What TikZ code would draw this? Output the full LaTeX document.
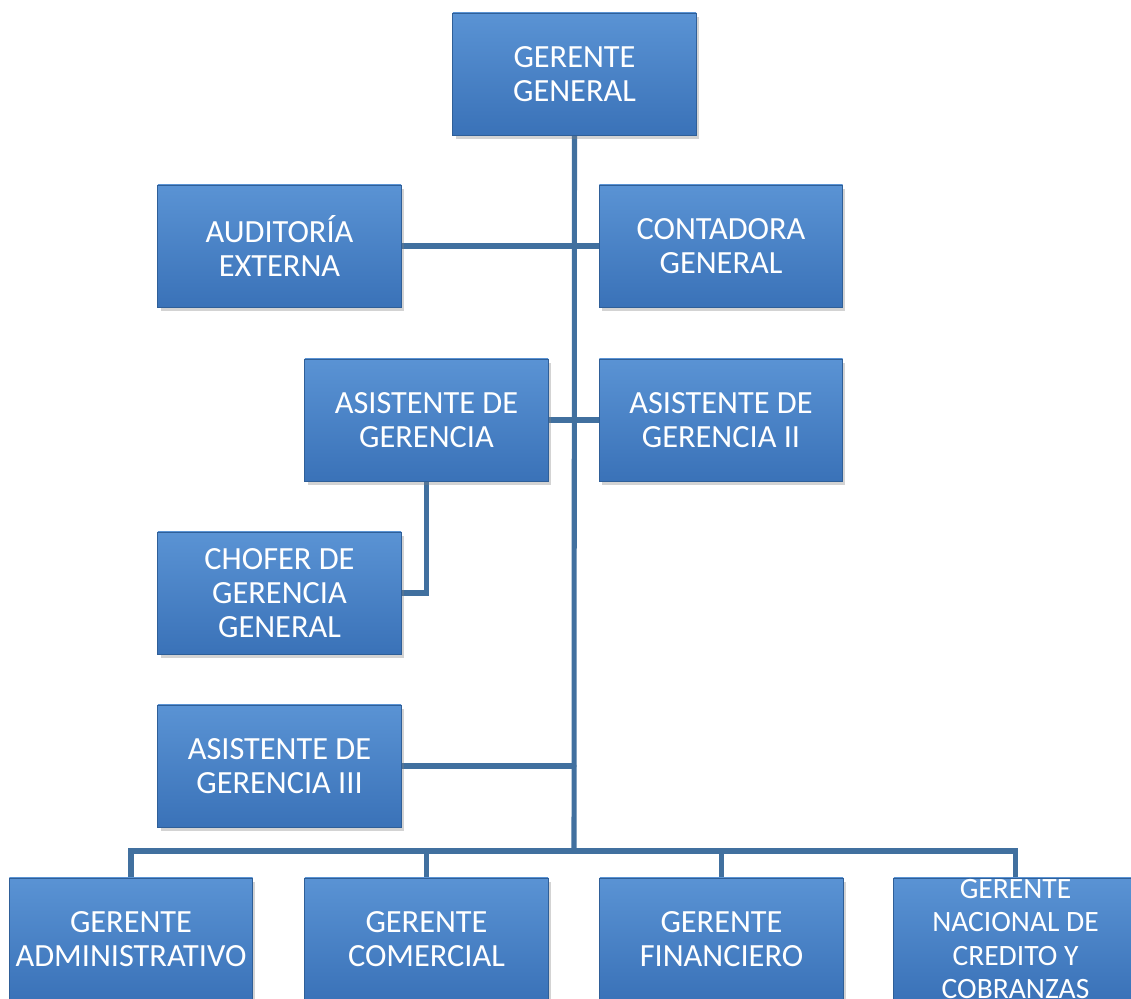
\documentclass[tikz,border=0pt]{standalone}
\usepackage{fontspec}
\setmainfont{Carlito}
\usepackage{tikz}
\usetikzlibrary{calc, shadows, backgrounds}

\definecolor{boxtop}{HTML}{5A93D4}
\definecolor{boxbot}{HTML}{3A72B8}
\definecolor{boxedge}{HTML}{2F5F98}
\definecolor{linkcol}{HTML}{41709F}

\begin{document}
\begin{tikzpicture}[
    x = 0.025cm, y = -0.025cm,
    puesto/.style = {rectangle, draw = boxedge, line width = 0.6pt,
      top color = boxtop, bottom color = boxbot,
      drop shadow = {opacity = 0.35, shadow xshift = 2pt, shadow yshift = -3pt},
      minimum width = 6.08cm, minimum height = 3.05cm,
      align = center, text = white, font = \fontsize{23}{24}\selectfont},
    rotulo/.style = {align = center, text = white, font = \fontsize{21}{23.5}\selectfont},
    enlace/.style = {draw = linkcol, line width = 3.6pt, line cap = round}
  ]
  \useasboundingbox (0,0) rectangle (1131,999);

  % top level and staff
  \node[puesto] (GG)    at (574.5, 74)  {GERENTE\\GENERAL};
  \node[puesto] (Aud)   at (279.5, 246) {AUDITORÍA\\EXTERNA};
  \node[puesto] (Cont)  at (721, 246)   {CONTADORA\\GENERAL};
  \node[puesto] (Asis)  at (426.5, 420) {ASISTENTE DE\\GERENCIA};
  \node[puesto] (Asis2) at (721, 420)   {ASISTENTE DE\\GERENCIA II};
  \node[puesto] (Chof)  at (279.5, 593) {CHOFER DE\\GERENCIA\\GENERAL};
  \node[puesto] (Asis3) at (279.5, 766) {ASISTENTE DE\\GERENCIA III};

  % managers
  \node[puesto] (GA)   at (131, 939)    {GERENTE\\ADMINISTRATIVO};
  \node[puesto] (GC)   at (426.5, 939)  {GERENTE\\COMERCIAL};
  \node[puesto] (GF)   at (721.5, 939)  {GERENTE\\FINANCIERO};
  \node[puesto] (GNCC) at (1015.5, 939) {};
  \node[rotulo] (GNCCt) at (GNCC) {GERENTE\\NACIONAL DE\\CREDITO Y\\COBRANZAS};

  \coordinate (bus) at (574, 851);

  % connectors, behind the boxes
  \begin{scope}[on background layer]
    \path[enlace] (GG.south) -- (bus);
    \path[enlace] (Aud.east) -- (Cont.west);
    \path[enlace] (Asis.east) -- (Asis2.west);
    \path[enlace] (Asis.south) |- (Chof.east);
    \path[enlace] (Asis3.east) -- (Asis3.east -| bus);
    \path[enlace] (GA.north) |- (bus) -| (GNCC.north);
    \path[enlace] (GC.north) -- (GC.north |- bus);
    \path[enlace] (GF.north) -- (GF.north |- bus);
  \end{scope}
\end{tikzpicture}
\end{document}
